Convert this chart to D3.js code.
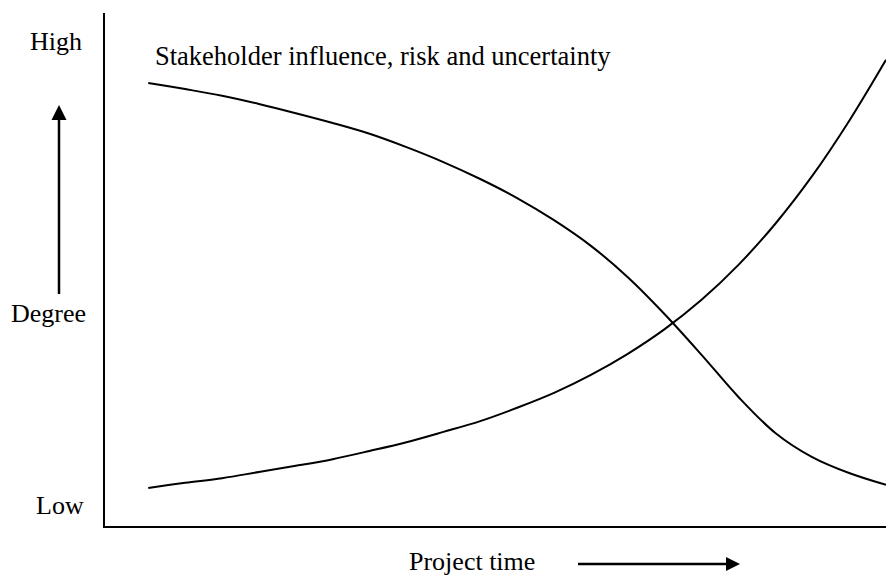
<!DOCTYPE html>
<html>
<head>
<meta charset="utf-8">
<script src="https://cdn.jsdelivr.net/npm/d3@7"></script>
<style>
  body { margin: 0; background: #fff; }
  svg text { font-family: "Liberation Serif", "Times New Roman", serif; fill: #000; }
</style>
</head>
<body>
<svg id="pm_svg"></svg>
<script>
// project time (0 = project start, 100 = close)
var time_points = [0, 5, 10, 15, 20, 25, 30, 35, 40, 45, 50, 55, 60, 65, 70, 75, 80, 85, 90, 95, 100];
// stakeholder influence, risk and uncertainty
var influence_vals = [86.4, 85.2, 83.9, 82.3, 80.5, 78.6, 76.5, 73.9, 71.0, 67.7, 64.0,
                      59.7, 54.7, 48.6, 41.4, 33.5, 25.3, 18.3, 13.6, 10.5, 8.2];
// cost of changes (the rising curve)
var change_cost_vals = [7.6, 8.6, 9.5, 10.7, 11.9, 13.2, 14.8, 16.5, 18.5, 20.6, 23.2,
                        26.1, 29.6, 33.7, 38.5, 44.2, 51.0, 59.0, 68.3, 79.0, 90.9];
var level_labels = ['High', 'Degree', 'Low'];
var level_vals = [92.8, 39.9, 2.5];

var pm_width = 886, pm_height = 575;

var pm_scaleX = d3.scaleLinear()
  .domain([-6, 100])
  .range([104, 886]);
var pm_scaleY = d3.scaleLinear()
  .domain([0, 100])
  .range([527, 13]);

var lineGen = d3.line()
  .x(function(d) { return pm_scaleX(d.x); })
  .y(function(d) { return pm_scaleY(d.y); })
  .curve(d3.curveCatmullRom.alpha(0.5));

function toPoints(vals) {
  return time_points.map(function(t, i) { return {x: t, y: vals[i]}; });
}

var svg = d3.select('#pm_svg')
  .attr('width', pm_width)
  .attr('height', pm_height);

// axes: plain lines, no ticks
svg.append('line')
  .attr('x1', pm_scaleX(-6)).attr('x2', pm_scaleX(-6))
  .attr('y1', pm_scaleY(100)).attr('y2', pm_scaleY(0))
  .style('stroke', '#000').style('stroke-width', 2);
svg.append('line')
  .attr('x1', pm_scaleX(-6) - 1).attr('x2', pm_scaleX(100))
  .attr('y1', pm_scaleY(0)).attr('y2', pm_scaleY(0))
  .style('stroke', '#000').style('stroke-width', 2);

svg.append('path')
  .attr('d', lineGen(toPoints(influence_vals)))
  .style('fill', 'none')
  .style('stroke', '#000')
  .style('stroke-width', 2);

svg.append('path')
  .attr('d', lineGen(toPoints(change_cost_vals)))
  .style('fill', 'none')
  .style('stroke', '#000')
  .style('stroke-width', 2);

// y labels
var label_x = [30, 11, 36];
level_labels.forEach(function(l, i) {
  svg.append('text')
    .text(l)
    .attr('x', label_x[i])
    .attr('y', pm_scaleY(level_vals[i]))
    .attr('font-size', '26px');
});

svg.append('text')
  .text('Stakeholder influence, risk and uncertainty')
  .attr('x', 155)
  .attr('y', 65)
  .attr('font-size', '26.5px');

svg.append('text')
  .text('Project time')
  .attr('x', 409)
  .attr('y', 570)
  .attr('font-size', '26px');

// arrows
svg.append('line')
  .attr('x1', 59).attr('x2', 59)
  .attr('y1', 294).attr('y2', 118)
  .style('stroke', '#000').style('stroke-width', 2.5);
svg.append('path')
  .attr('d', 'M59,105 L51.5,120 L66.5,120 Z')
  .style('fill', '#000');

svg.append('line')
  .attr('x1', 578).attr('x2', 728)
  .attr('y1', 564).attr('y2', 564)
  .style('stroke', '#000').style('stroke-width', 2.5);
svg.append('path')
  .attr('d', 'M740,564 L726,557 L726,571 Z')
  .style('fill', '#000');
</script>
</body>
</html>
